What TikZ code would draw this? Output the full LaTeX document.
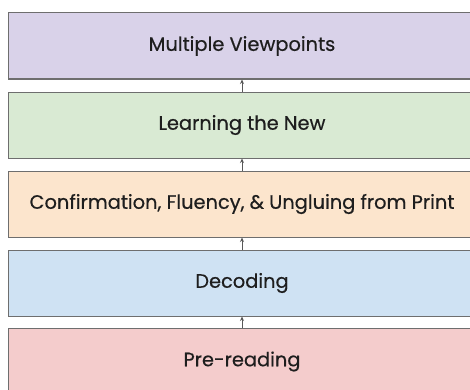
\documentclass[tikz,border=0pt]{standalone}
\usepackage{fontspec}
\setmainfont{Poppins}[FakeBold=0.5]
\usetikzlibrary{arrows.meta}
\definecolor{cpurple}{HTML}{D9D2E9}
\definecolor{cgreen}{HTML}{D9EAD3}
\definecolor{corange}{HTML}{FCE5CD}
\definecolor{cblue}{HTML}{CFE2F3}
\definecolor{cred}{HTML}{F4CCCC}
\definecolor{cborder}{HTML}{6E6E6E}
\definecolor{ctext}{HTML}{1E1E1E}
\begin{document}
\begin{tikzpicture}[x=1pt,y=1pt,
  layerbox/.style={draw=cborder,line width=1pt,minimum width=468pt,minimum height=66pt,
    inner sep=0pt,text=ctext,font=\fontsize{19.4}{22}\selectfont},
  uparrow/.style={draw=cborder!80!black,line width=0.8pt,-{Stealth[length=4.5pt,width=4pt]}}]
\useasboundingbox (0,0) rectangle (470,389);
\clip (0,0) rectangle (470,389);
\node[layerbox,fill=cpurple] (mv) at (242,343) {Multiple Viewpoints};
\node[layerbox,fill=cgreen] (ln) at (242,264) {Learning the New};
\node[layerbox,fill=corange] (cf) at (242,185) {Confirmation, Fluency, \& Ungluing from Print};
\node[layerbox,fill=cblue] (dc) at (242,106) {Decoding};
\node[layerbox,fill=cred] (pr) at (242,27.5) {Pre-reading};
\draw[uparrow] (pr.north) -- (dc.south);
\draw[uparrow] (dc.north) -- (cf.south);
\draw[uparrow] (cf.north) -- (ln.south);
\draw[uparrow] (ln.north) -- (mv.south);
\end{tikzpicture}
\end{document}
